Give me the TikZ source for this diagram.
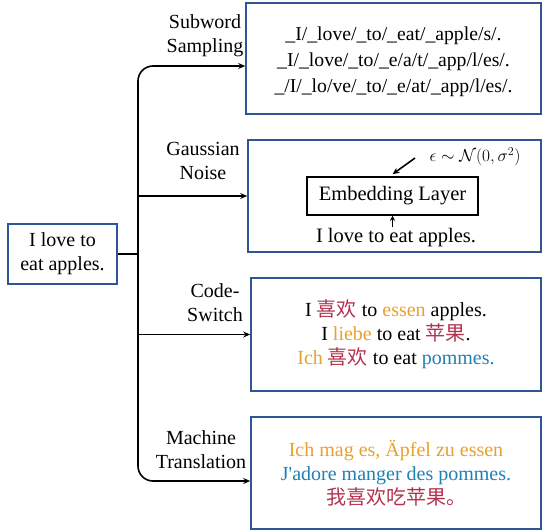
\documentclass[tikz,border=0pt]{standalone}
\usepackage{fontspec}
\setmainfont{Liberation Serif}
\newfontfamily\plainser{Liberation Serif}
\newfontfamily\cjk{Noto Sans CJK SC}
\usetikzlibrary{arrows.meta,calc}
\definecolor{boxblue}{HTML}{2F5597}
\definecolor{cor}{HTML}{E9A02E}
\definecolor{cred}{HTML}{B3334F}
\definecolor{cblue}{HTML}{1F80B2}
\tikzset{
 bigbox/.style={draw=boxblue, line width=1.6pt, align=center, inner sep=0pt},
 conn/.style={line width=1.6pt, black},
 arr/.style={conn, -{Stealth[length=7pt,width=6pt]}},
 lbl/.style={align=center, inner sep=0pt},
}
\begin{document}
\begin{tikzpicture}[x=1pt,y=-1pt,font=\fontsize{20}{24}\selectfont]
\useasboundingbox (0,0) rectangle (543,530);
% input
\node[bigbox, minimum width=109pt, minimum height=60pt] (in) at (62.5,254) {I love to\\eat apples.};
% boxes
\node[bigbox, minimum width=295pt, minimum height=111pt] (b1) at (393.5,58.5) {};
\node[lbl, font=\fontsize{19.7}{26}\selectfont] (t1) at (393.5,61.5)
 {\_I/\_love/\_to/\_eat/\_apple/s/.\\\_I/\_love/\_to/\_e/a/t/\_app/l/es/.\\\_/I/\_lo/ve/\_to/\_e/at/\_app/l/es/.};
\node[bigbox, minimum width=293pt, minimum height=112pt] (b2) at (394.5,196) {};
\node[bigbox, minimum width=290pt, minimum height=113pt] (b3) at (396,334.5)
 {I {\cjk\color{cred}喜欢} to {\color{cor}essen} apples.\\
  I {\color{cor}liebe} to eat {\cjk\color{cred}苹果}.\\
  {\color{cor}Ich} {\cjk\color{cred}喜欢} to eat {\color{cblue}pommes.}};
\node[bigbox, minimum width=290pt, minimum height=112pt] (b4) at (396,473)
 {{\color{cor}Ich mag es, Äpfel zu essen}\\
  {\plainser\color{cblue}J'adore manger des pommes.}\\
  {\cjk\color{cred}我喜欢吃苹果。}};
% box2 internals
\node[draw, line width=1.5pt, minimum width=171pt, minimum height=38pt, inner sep=0pt, font=\fontsize{20.5}{24}\selectfont] (emb) at (392.5,196) {Embedding Layer};
\node[lbl, font=\fontsize{18.5}{24}\selectfont] (eps) at (475,157) {$\epsilon\sim\mathcal{N}(0,\sigma^2)$};
\node[lbl, inner sep=2pt, font=\fontsize{20.5}{24}\selectfont] (sent) at (396,238) {I love to eat apples.};
\coordinate (epsTail) at (415,158);
\draw[conn, -{Stealth[length=5pt,width=5pt]}] (sent.north -| emb.south) -- (emb.south);
\draw[conn, -{Stealth[length=7pt,width=6pt]}] (epsTail) -- ($(emb.north)+(0,-2)$);
% labels
\node[lbl] (l1) at (205,36) {Subword\\Sampling};
\node[lbl] (l2) at (203,161) {Gaussian\\Noise};
\node[lbl] (l3) at (215,303) {Code-\\Switch};
\node[lbl] (l4) at (201,450) {Machine\\Translation};
% connectors
\coordinate (trunk) at (138,254);
\coordinate (a1) at ($(b1.west)+(0,7.5)$);
\coordinate (a4) at ($(b4.west)+(0,8)$);
\draw[arr, {Stealth[length=7pt,width=6pt]}-{Stealth[length=7pt,width=6pt]}, rounded corners=15pt] (a1) -| (trunk) |- (a4);
\draw[arr] (trunk |- b2.west) -- (b2.west);
\draw[arr] (trunk |- b3.west) -- (b3.west);
\draw[conn] (in.east) -- (trunk);
\end{tikzpicture}
\end{document}
